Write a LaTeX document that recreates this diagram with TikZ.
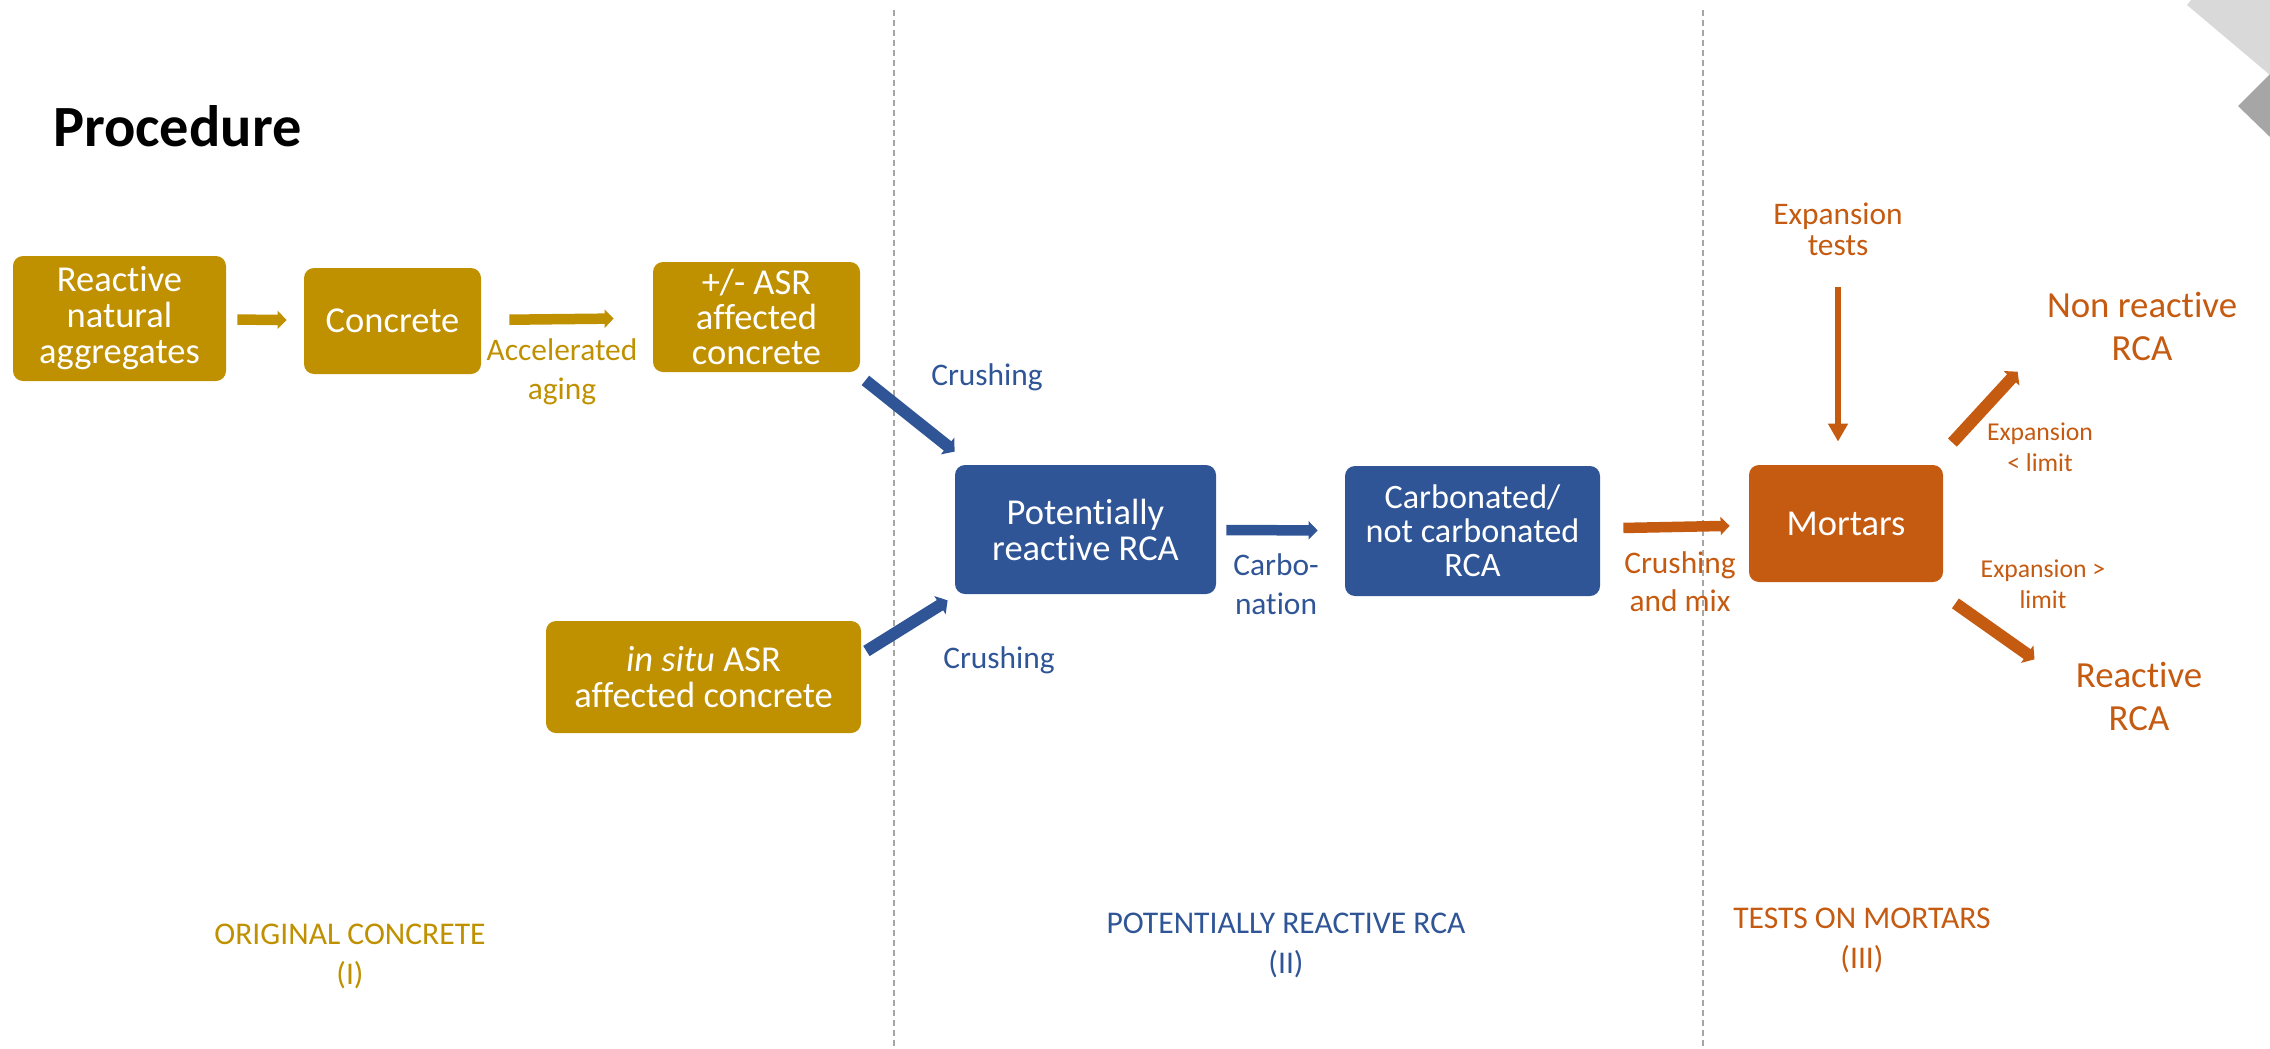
\documentclass[tikz,border=0pt]{standalone}
\usepackage{fontspec}
\setmainfont{Carlito}[Ligatures=NoCommon]
\usetikzlibrary{arrows.meta,calc}

\newlength{\du}
\setlength{\du}{0.5pt}

\definecolor{concretecolor}{HTML}{BF9000}
\definecolor{rcacolor}{HTML}{2F5597}
\definecolor{mortarcolor}{HTML}{C55A11}
\definecolor{cornerlight}{HTML}{D9D9D9}
\definecolor{cornerdark}{HTML}{A6A6A6}

\tikzset{
  stagebox/.style={rectangle, rounded corners=5pt, text=white, align=center, inner sep=0pt,
    font=\fontsize{18.25}{18}\selectfont},
  steplabel/.style={align=center, inner sep=0pt, font=\fontsize{15.7}{19.5}\selectfont},
  limitlabel/.style={align=center, inner sep=0pt, text=mortarcolor, font=\fontsize{12.85}{15.5}\selectfont},
  resultlabel/.style={align=center, inner sep=0pt, text=mortarcolor, font=\fontsize{18.4}{21.5}\selectfont},
  phaselabel/.style={align=center, inner sep=0pt, font=\fontsize{15.8}{20}\selectfont},
  blockarrow/.style={line width=5.25pt, -{Triangle[length=4.5pt,width=9pt]}},
  wideblockarrow/.style={line width=6pt, -{Triangle[length=4.5pt,width=10.5pt]}},
  thinarrow/.style={line width=3pt, -{Triangle[length=9pt,width=9.5pt]}},
  phaseline/.style={cornerdark, line width=1pt, dash pattern=on 3pt off 2pt},
}

\begin{document}
\begin{tikzpicture}[x=\du, y=-\du]
\useasboundingbox (0,0) rectangle (2270,1049);

\fill[cornerlight] (2191,0) -- (2187,5) -- (2270,75) -- (2270,0) -- cycle;
\fill[cornerdark] (2238,106) -- (2270,74) -- (2270,137) -- cycle;

\draw[phaseline] (894,10) -- (894,1049);
\draw[phaseline] (1703,10) -- (1703,1049);

\node[anchor=base west, font=\fontsize{29.2}{32}\selectfont\bfseries] (title) at (46,146) {Procedure};

% (I) original concrete
\node[stagebox, fill=concretecolor, minimum width=213\du, minimum height=125\du] (natagg) at (119.5,318.5) {Reactive\\natural\\aggregates};
\node[stagebox, fill=concretecolor, minimum width=177\du, minimum height=106\du] (concrete) at (392.5,321) {Concrete};
\node[stagebox, fill=concretecolor, minimum width=207\du, minimum height=110\du,
  font=\fontsize{18.25}{17.5}\selectfont] (asrconc) at (756.5,317) {+/- ASR\\affected\\concrete};
\node[stagebox, fill=concretecolor, minimum width=315\du, minimum height=112\du] (insitu) at (703.5,677) {\textit{in situ} ASR\\affected concrete};
\node[steplabel, text=concretecolor] (accel) at (562,372) {Accelerated\\aging};

% (II) potentially reactive RCA
\node[stagebox, fill=rcacolor, minimum width=261\du, minimum height=129\du] (potrca) at (1085.5,529.5) {Potentially\\reactive RCA};
\node[stagebox, fill=rcacolor, minimum width=255\du, minimum height=130\du,
  font=\fontsize{17.1}{17}\selectfont] (carbrca) at (1472.5,531) {Carbonated/\\not carbonated\\RCA};
\node[steplabel, text=rcacolor] (crushtop) at (987,377) {Crushing};
\node[steplabel, text=rcacolor] (crushbot) at (999,660) {Crushing};
\node[steplabel, text=rcacolor] (carbon) at (1276,584) {Carbo-\\nation};

% (III) tests on mortars
\node[stagebox, fill=mortarcolor, minimum width=194\du, minimum height=117\du] (mortars) at (1846,523.5) {Mortars};
\node[steplabel, text=mortarcolor, font=\fontsize{15.7}{19}\selectfont] (crushmix) at (1680,582) {Crushing\\and mix};
\node[steplabel, text=mortarcolor, font=\fontsize{15.7}{15.5}\selectfont] (exptests) at (1838,229) {Expansion\\tests};
\node[limitlabel] (limitlow) at (2040,447) {Expansion\\< limit};
\node[limitlabel] (limithigh) at (2043,584) {Expansion >\\limit};
\node[resultlabel] (nonreact) at (2142,326) {Non reactive\\RCA};
\node[resultlabel] (react) at (2139,696) {Reactive\\RCA};

\node[phaselabel, text=concretecolor] (phaseone) at (350,956) {ORIGINAL CONCRETE\\(I)};
\node[phaselabel, text=rcacolor] (phasetwo) at (1286,945) {POTENTIALLY REACTIVE RCA\\(II)};
\node[phaselabel, text=mortarcolor] (phasethree) at (1862,940) {TESTS ON MORTARS\\(III)};

\draw[blockarrow, concretecolor, shorten <=11\du, shorten >=17\du] (natagg) -- (concrete);
\draw[blockarrow, concretecolor, shorten <=28\du, shorten >=39\du] (concrete) -- (asrconc);
\draw[wideblockarrow, rcacolor] ($(asrconc.south east)+(5,8)$) -- ($(potrca.north west)+(0,-13)$);
\draw[wideblockarrow, rcacolor] ($(insitu.east)+(5,-26)$) -- ($(potrca.south west)+(-7,6)$);
\draw[blockarrow, rcacolor, shorten <=10\du, shorten >=27\du] (potrca) -- (carbrca);
\draw[blockarrow, mortarcolor, shorten <=23\du, shorten >=19\du] (carbrca) -- (mortars);
\draw[thinarrow, mortarcolor, shorten <=31\du, shorten >=23\du] (exptests.south) -- (exptests.south |- mortars.north);
\draw[wideblockarrow, mortarcolor] ($(mortars.north east)+(9,-22)$) -- ($(nonreact.south west)+(-29,11)$);
\draw[wideblockarrow, mortarcolor] ($(mortars.south east)+(12,21)$) -- ($(react.north west)+(-41,-2)$);

\end{tikzpicture}
\end{document}
